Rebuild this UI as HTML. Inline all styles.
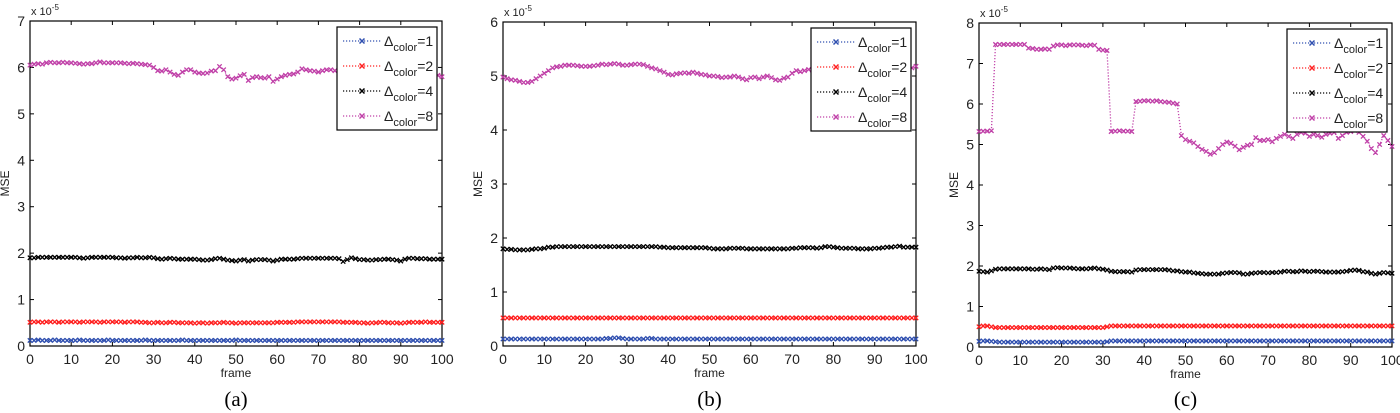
<!DOCTYPE html>
<html><head><meta charset="utf-8">
<style>
html,body{margin:0;padding:0;background:#fff;}
svg{display:block;font-family:"Liberation Sans",sans-serif;}
</style></head>
<body>
<svg id="fig" width="1400" height="413" viewBox="0 0 1400 413" xmlns="http://www.w3.org/2000/svg"></svg>
<script>
const frames = Array.from({length:101},(_, i)=>i);
const xTicks = [0,10,20,30,40,50,60,70,80,90,100];
const legendLabels = ['=1','=2','=4','=8'];
const seriesColors = ['#3050b0','#ff2020','#000000','#c040a8'];
const captions = ['(a)','(b)','(c)'];
const yMaxes = [7,6,8];

const aBlue = [0.12,0.12,0.13,0.12,0.12,0.12,0.13,0.12,0.12,0.12,0.12,0.12,0.13,0.12,0.12,0.12,0.12,0.12,0.12,0.13,0.12,0.12,0.12,0.12,0.12,0.12,0.12,0.12,0.13,0.12,0.12,0.12,0.12,0.12,0.12,0.12,0.12,0.13,0.12,0.12,0.12,0.12,0.12,0.12,0.12,0.12,0.12,0.12,0.12,0.12,0.13,0.12,0.12,0.12,0.12,0.12,0.12,0.12,0.12,0.12,0.12,0.12,0.12,0.12,0.12,0.12,0.12,0.12,0.12,0.12,0.12,0.12,0.12,0.12,0.12,0.12,0.12,0.12,0.12,0.12,0.12,0.12,0.12,0.12,0.12,0.12,0.12,0.12,0.12,0.12,0.12,0.12,0.12,0.12,0.12,0.12,0.12,0.12,0.12,0.12,0.12];
const aRed = [0.51,0.52,0.52,0.51,0.52,0.52,0.52,0.51,0.52,0.52,0.52,0.52,0.51,0.52,0.52,0.52,0.52,0.51,0.52,0.52,0.52,0.52,0.52,0.51,0.52,0.52,0.52,0.51,0.51,0.5,0.5,0.51,0.5,0.5,0.51,0.51,0.5,0.5,0.5,0.5,0.49,0.5,0.5,0.49,0.5,0.5,0.5,0.51,0.5,0.5,0.49,0.5,0.5,0.5,0.5,0.5,0.5,0.5,0.5,0.5,0.51,0.51,0.51,0.51,0.51,0.52,0.52,0.52,0.52,0.52,0.52,0.52,0.52,0.52,0.52,0.52,0.51,0.51,0.51,0.51,0.5,0.5,0.49,0.5,0.5,0.51,0.51,0.5,0.5,0.5,0.49,0.5,0.51,0.51,0.51,0.51,0.52,0.51,0.51,0.51,0.51];
const aBlack = [1.9,1.9,1.91,1.91,1.91,1.91,1.91,1.91,1.91,1.91,1.91,1.91,1.9,1.89,1.9,1.91,1.91,1.91,1.91,1.91,1.91,1.9,1.9,1.89,1.9,1.9,1.91,1.9,1.9,1.91,1.9,1.88,1.87,1.88,1.89,1.88,1.87,1.87,1.87,1.87,1.87,1.86,1.85,1.85,1.86,1.88,1.89,1.87,1.85,1.84,1.83,1.85,1.86,1.83,1.85,1.86,1.86,1.86,1.85,1.83,1.85,1.87,1.87,1.87,1.87,1.88,1.89,1.89,1.89,1.89,1.89,1.89,1.89,1.89,1.89,1.88,1.82,1.86,1.9,1.88,1.86,1.86,1.85,1.85,1.86,1.86,1.87,1.87,1.86,1.85,1.83,1.87,1.89,1.89,1.88,1.88,1.88,1.87,1.87,1.87,1.87];
const aMag = [6.05,6.07,6.08,6.07,6.1,6.11,6.1,6.1,6.11,6.1,6.1,6.09,6.08,6.07,6.08,6.08,6.1,6.12,6.1,6.1,6.1,6.1,6.1,6.09,6.08,6.09,6.08,6.07,6.06,6.05,6.0,5.93,5.92,5.95,5.9,5.85,5.83,5.9,5.95,5.95,5.9,5.88,5.87,5.88,5.92,5.93,6.02,5.95,5.8,5.75,5.77,5.82,5.85,5.72,5.78,5.8,5.78,5.77,5.8,5.7,5.75,5.8,5.83,5.85,5.86,5.9,5.97,5.95,5.93,5.92,5.9,5.93,5.95,5.95,5.93,5.94,5.96,5.95,5.93,5.9,5.92,5.94,5.95,5.93,5.92,5.9,5.92,5.93,5.95,5.93,5.9,5.9,5.92,5.93,5.9,5.88,5.87,5.86,5.85,5.83,5.8];

const bBlue = [0.13,0.13,0.13,0.13,0.13,0.13,0.13,0.13,0.13,0.13,0.13,0.13,0.13,0.13,0.13,0.13,0.13,0.13,0.13,0.13,0.13,0.13,0.13,0.13,0.13,0.14,0.14,0.15,0.15,0.14,0.13,0.13,0.13,0.13,0.13,0.14,0.14,0.13,0.13,0.13,0.13,0.13,0.13,0.13,0.13,0.13,0.13,0.13,0.13,0.13,0.13,0.13,0.13,0.13,0.13,0.13,0.13,0.13,0.13,0.13,0.13,0.13,0.13,0.13,0.13,0.13,0.13,0.13,0.13,0.13,0.13,0.13,0.13,0.13,0.13,0.13,0.13,0.13,0.13,0.13,0.13,0.13,0.13,0.13,0.13,0.13,0.13,0.13,0.13,0.13,0.13,0.13,0.13,0.13,0.13,0.13,0.13,0.13,0.13,0.13,0.13];
const bRed = [0.52,0.52,0.52,0.52,0.52,0.52,0.52,0.52,0.52,0.52,0.52,0.52,0.52,0.52,0.52,0.52,0.52,0.52,0.52,0.52,0.52,0.52,0.52,0.52,0.52,0.52,0.52,0.52,0.52,0.52,0.52,0.52,0.52,0.52,0.52,0.52,0.52,0.52,0.52,0.52,0.52,0.52,0.52,0.52,0.52,0.52,0.52,0.52,0.52,0.52,0.52,0.52,0.52,0.52,0.52,0.52,0.52,0.52,0.52,0.52,0.52,0.52,0.52,0.52,0.52,0.52,0.52,0.52,0.52,0.52,0.52,0.52,0.52,0.52,0.52,0.52,0.52,0.52,0.52,0.52,0.52,0.52,0.52,0.52,0.52,0.52,0.52,0.52,0.52,0.52,0.52,0.52,0.52,0.52,0.52,0.52,0.52,0.52,0.52,0.52,0.52];
const bBlack = [1.8,1.79,1.79,1.78,1.78,1.78,1.78,1.79,1.8,1.8,1.81,1.83,1.83,1.84,1.84,1.84,1.84,1.84,1.84,1.84,1.84,1.84,1.84,1.84,1.84,1.84,1.84,1.84,1.84,1.84,1.84,1.84,1.84,1.84,1.84,1.84,1.84,1.84,1.83,1.83,1.82,1.82,1.82,1.82,1.82,1.82,1.82,1.82,1.82,1.82,1.81,1.8,1.8,1.8,1.8,1.81,1.81,1.81,1.81,1.8,1.8,1.8,1.8,1.8,1.8,1.8,1.8,1.8,1.8,1.8,1.81,1.81,1.82,1.82,1.82,1.82,1.81,1.82,1.84,1.84,1.83,1.82,1.81,1.81,1.81,1.81,1.8,1.8,1.8,1.8,1.81,1.81,1.82,1.83,1.83,1.84,1.85,1.83,1.83,1.83,1.83];
const bMag = [4.98,4.95,4.93,4.92,4.9,4.88,4.88,4.9,4.95,5.0,5.05,5.1,5.15,5.17,5.18,5.2,5.2,5.2,5.19,5.18,5.18,5.18,5.19,5.2,5.22,5.21,5.22,5.23,5.22,5.2,5.2,5.21,5.22,5.22,5.21,5.18,5.15,5.13,5.1,5.07,5.03,5.02,5.04,5.05,5.06,5.05,5.07,5.05,5.03,5.02,5.0,5.0,4.99,4.97,4.98,4.98,5.0,4.98,4.95,4.93,4.97,4.98,4.95,4.98,5.0,4.97,4.93,4.92,4.96,4.98,5.05,5.1,5.08,5.1,5.12,5.1,5.12,5.13,5.12,5.14,5.15,5.15,5.14,5.15,5.16,5.15,5.14,5.15,5.16,5.17,5.15,5.16,5.17,5.18,5.17,5.16,5.15,5.14,5.13,5.15,5.18];

const cBlue = [0.14,0.15,0.15,0.14,0.13,0.12,0.12,0.12,0.12,0.12,0.12,0.12,0.12,0.12,0.12,0.12,0.12,0.12,0.12,0.12,0.12,0.12,0.12,0.12,0.12,0.12,0.12,0.12,0.12,0.12,0.12,0.13,0.15,0.15,0.15,0.15,0.15,0.15,0.15,0.15,0.15,0.15,0.15,0.15,0.15,0.15,0.15,0.15,0.15,0.15,0.15,0.15,0.15,0.15,0.15,0.15,0.15,0.15,0.15,0.15,0.15,0.15,0.15,0.15,0.15,0.15,0.15,0.15,0.15,0.15,0.15,0.15,0.15,0.15,0.15,0.15,0.15,0.15,0.15,0.15,0.15,0.15,0.15,0.15,0.15,0.15,0.15,0.15,0.15,0.15,0.15,0.15,0.15,0.15,0.15,0.15,0.15,0.15,0.15,0.15,0.15];
const cRed = [0.5,0.52,0.52,0.5,0.48,0.48,0.48,0.48,0.48,0.48,0.48,0.48,0.48,0.48,0.48,0.48,0.48,0.48,0.48,0.48,0.48,0.48,0.48,0.48,0.48,0.48,0.48,0.48,0.48,0.48,0.48,0.5,0.52,0.52,0.52,0.52,0.52,0.52,0.52,0.52,0.52,0.52,0.52,0.52,0.52,0.52,0.52,0.52,0.52,0.52,0.52,0.52,0.52,0.52,0.52,0.52,0.52,0.52,0.52,0.52,0.52,0.52,0.52,0.52,0.52,0.52,0.52,0.52,0.52,0.52,0.52,0.52,0.52,0.52,0.52,0.52,0.52,0.52,0.52,0.52,0.52,0.52,0.52,0.52,0.52,0.52,0.52,0.52,0.52,0.52,0.52,0.52,0.52,0.52,0.52,0.52,0.52,0.52,0.52,0.52,0.52];
const cBlack = [1.87,1.86,1.85,1.88,1.92,1.93,1.93,1.93,1.93,1.93,1.93,1.93,1.93,1.92,1.92,1.93,1.92,1.91,1.95,1.96,1.95,1.95,1.95,1.94,1.93,1.93,1.93,1.94,1.95,1.93,1.92,1.9,1.87,1.86,1.86,1.86,1.86,1.85,1.9,1.91,1.91,1.91,1.91,1.91,1.91,1.91,1.9,1.88,1.88,1.86,1.85,1.85,1.83,1.82,1.81,1.8,1.8,1.8,1.8,1.82,1.83,1.84,1.84,1.83,1.8,1.8,1.82,1.83,1.84,1.84,1.83,1.84,1.84,1.85,1.87,1.87,1.86,1.86,1.88,1.87,1.86,1.87,1.87,1.86,1.85,1.85,1.85,1.85,1.86,1.87,1.89,1.9,1.89,1.86,1.85,1.82,1.8,1.82,1.84,1.83,1.82];
const cMag = [5.32,5.33,5.33,5.34,7.47,7.47,7.47,7.47,7.47,7.47,7.47,7.47,7.38,7.37,7.35,7.35,7.36,7.35,7.43,7.46,7.46,7.44,7.46,7.46,7.46,7.45,7.44,7.46,7.45,7.35,7.33,7.32,5.32,5.33,5.34,5.33,5.33,5.32,6.06,6.07,6.08,6.08,6.07,6.08,6.06,6.05,6.04,6.02,6.0,5.22,5.12,5.08,5.04,4.95,4.88,4.83,4.76,4.8,4.9,5.0,5.06,5.03,4.96,4.87,4.93,4.98,5.0,5.17,5.1,5.1,5.12,5.07,5.15,5.2,5.25,5.2,5.15,5.25,5.3,5.28,5.2,5.25,5.22,5.18,5.25,5.28,5.3,5.15,5.22,5.3,5.32,5.35,5.3,5.2,5.08,4.9,4.8,5.0,5.22,5.1,4.95];

const panelSeries = [[aBlue,aRed,aBlack,aMag],[bBlue,bRed,bBlack,bMag],[cBlue,cRed,cBlack,cMag]];
const panelBoxes = [{l:30,r:442,t:21,b:346},{l:503,r:916,t:22,b:346},{l:979,r:1392,t:23,b:347}];

const NS='http://www.w3.org/2000/svg';
const svg=document.getElementById('fig');
function mk(tag,attrs,parent){const e=document.createElementNS(NS,tag);for(const k in attrs)e.setAttribute(k,attrs[k]);(parent||svg).appendChild(e);return e;}

panelBoxes.forEach((B,p)=>{
  const g=mk('g',{});
  
  
  const ymax=yMaxes[p];
  const xs=v=>B.l+(v/100)*(B.r-B.l);
  const ys=v=>B.b-(v/ymax)*(B.b-B.t);
  const box=mk('rect',{x:B.l,y:B.t,width:B.r-B.l,height:B.b-B.t,fill:'none',stroke:'#000','stroke-width':1.2},g);
  
  
  xTicks.forEach(t=>{
    const x=xs(t);
    mk('line',{x1:x,y1:B.b,x2:x,y2:B.b-4,stroke:'#000'},g);
    mk('line',{x1:x,y1:B.t,x2:x,y2:B.t+4,stroke:'#000'},g);
    const tx=mk('text',{x:x,y:B.b+18,'font-size':14,'text-anchor':'middle',fill:'#222'},g);
    tx.textContent=t;
    
    
  });
  for(let t=0;t<=ymax;t++){
    const y=ys(t);
    mk('line',{x1:B.l,y1:y,x2:B.l+4,y2:y,stroke:'#000'},g);
    mk('line',{x1:B.r,y1:y,x2:B.r-4,y2:y,stroke:'#000'},g);
    const ty=mk('text',{x:B.l-5,y:y+5,'font-size':14,'text-anchor':'end',fill:'#222'},g);
    ty.textContent=t;
    
    
  }
  const ex=mk('text',{x:B.l+1,y:B.t-6,'font-size':11,fill:'#222'},g);
  ex.innerHTML='x 10<tspan dy="-5" font-size="8">-5</tspan>';
  
  
  const xl=mk('text',{x:(B.l+B.r)/2,y:B.b+31,'font-size':12,'text-anchor':'middle',fill:'#222'},g);
  xl.textContent='frame';
  
  
  const yl=mk('text',{x:0,y:0,'font-size':12,'text-anchor':'middle',fill:'#222',transform:`translate(${B.l-21},${(B.t+B.b)/2}) rotate(-90)`},g);
  yl.textContent='MSE';
  
  
  const cap=mk('text',{x:(B.l+B.r)/2,y:406,'font-size':21,'text-anchor':'middle','font-family':'Liberation Serif, serif',fill:'#000'},g);
  cap.textContent=captions[p];
  
  
  panelSeries[p].forEach((vals,s)=>{
    const sg=mk('g',{},g);
    
    
    const pts=vals.map((v,i)=>xs(frames[i])+','+ys(v)).join(' ');
    mk('polyline',{points:pts,fill:'none',stroke:seriesColors[s],'stroke-width':1.3,'stroke-dasharray':'1.2 1.8'},sg);
    const d=vals.map((v,i)=>{const x=xs(frames[i]),y=ys(v);return `M${x-2.2},${y-2.2}L${x+2.2},${y+2.2}M${x-2.2},${y+2.2}L${x+2.2},${y-2.2}`;}).join('');
    const mpath=mk('path',{d:d,stroke:seriesColors[s],'stroke-width':1.3,fill:'none'},sg);
    
    
  });
  const lx=B.r-105, ly=B.t+6;
  const lg=mk('g',{},g);
  
  
  mk('rect',{x:lx,y:ly,width:100,height:103,fill:'#fff',stroke:'#000','stroke-width':1.2},lg);
  legendLabels.forEach((lab,s)=>{
    const ry=ly+14+s*25;
    const e=mk('g',{},lg);
    
    
    mk('line',{x1:lx+6,y1:ry,x2:lx+44,y2:ry,stroke:seriesColors[s],'stroke-width':1.3,'stroke-dasharray':'1.2 1.8'},e);
    const mx=lx+25;
    mk('path',{d:`M${mx-2.5},${ry-2.5}L${mx+2.5},${ry+2.5}M${mx-2.5},${ry+2.5}L${mx+2.5},${ry-2.5}`,stroke:seriesColors[s],'stroke-width':1.5},e);
    const t=mk('text',{x:lx+47,y:ry+5,'font-size':14,fill:'#222'},e);
    t.innerHTML='Δ<tspan dy="5" font-size="11">color</tspan><tspan dy="-5">'+lab+'</tspan>';
  });
});
</script>
</body></html>
